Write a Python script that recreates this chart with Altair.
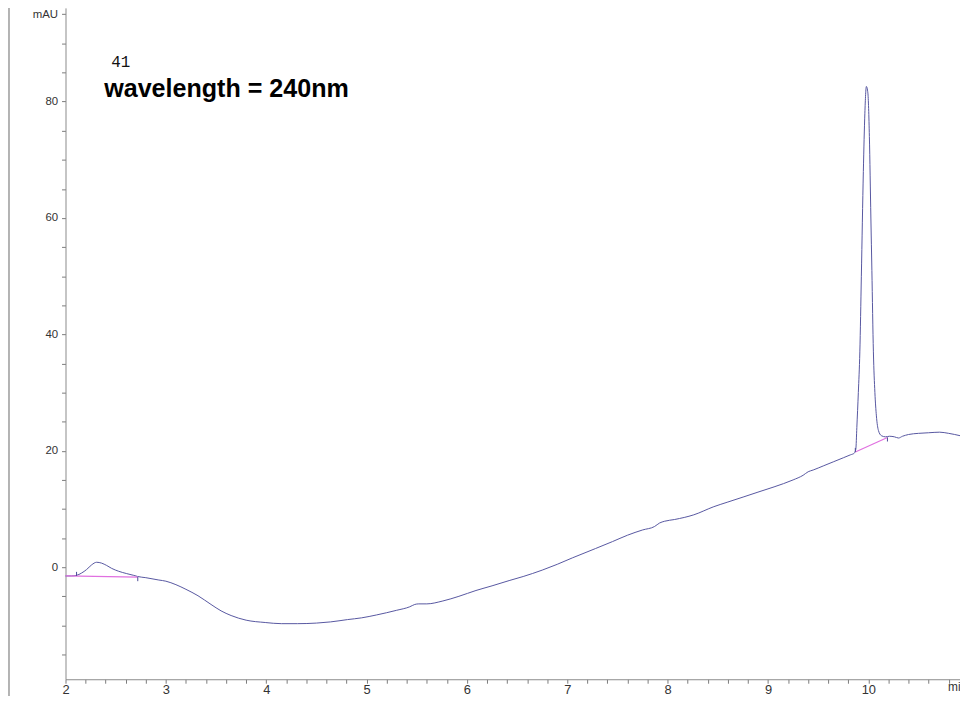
import altair as alt
import pandas as pd

# Chromatogram trace (minutes, mAU)
time_min = [2.00, 2.06, 2.11, 2.16, 2.21, 2.26, 2.31, 2.36, 2.41, 2.46, 2.53, 2.61, 2.68, 2.72,
            2.80, 2.93, 3.00, 3.10, 3.20, 3.32, 3.45, 3.55, 3.65, 3.80, 3.99, 4.15, 4.31, 4.50,
            4.64, 4.81, 4.95, 5.10, 5.30, 5.43, 5.48, 5.52, 5.60, 5.76, 5.92, 6.09, 6.25, 6.42,
            6.56, 6.75, 6.90, 7.05, 7.28, 7.45, 7.60, 7.75, 7.87, 7.92, 7.97, 8.07, 8.26, 8.46,
            8.60, 8.76, 8.90, 9.06, 9.25, 9.35, 9.40, 9.45, 9.55, 9.65, 9.75, 9.82, 9.86, 9.875,
            9.885, 9.90, 9.915, 9.93, 9.95, 9.965, 9.98, 9.995, 10.01, 10.025, 10.035, 10.05,
            10.065, 10.08, 10.10, 10.13, 10.17, 10.21, 10.26, 10.30, 10.34, 10.40, 10.50, 10.60,
            10.71, 10.80, 10.913]
signal_mau = [-1.5, -1.5, -1.4, -1.0, -0.4, 0.4, 0.85, 0.7, 0.3, -0.2, -0.7, -1.1, -1.4, -1.6,
              -1.8, -2.2, -2.4, -3.0, -3.8, -4.9, -6.4, -7.5, -8.3, -9.1, -9.5, -9.7, -9.7, -9.6,
              -9.4, -9.0, -8.7, -8.2, -7.4, -6.8, -6.4, -6.3, -6.3, -5.8, -5.0, -4.0, -3.2, -2.3,
              -1.6, -0.5, 0.5, 1.6, 3.2, 4.4, 5.5, 6.4, 7.0, 7.6, 7.9, 8.2, 9.0, 10.4,
              11.2, 12.1, 12.9, 13.8, 15.0, 15.8, 16.4, 16.7, 17.4, 18.1, 18.8, 19.3, 19.6, 20.3,
              24.0, 30.0, 37.0, 50.0, 68.0, 78.0, 82.6, 81.5, 74.0, 60.0, 51.0, 37.0,
              30.0, 26.0, 23.5, 22.6, 22.4, 22.5, 22.4, 22.2, 22.5, 22.8, 23.0, 23.1,
              23.2, 23.0, 22.6]

# Integration baselines (start/end points)
base_id = ["b1", "b1", "b2", "b2"]
base_t = [2.00, 2.72, 9.87, 10.19]
base_v = [-1.5, -1.7, 19.8, 22.3]

# Integration marker ticks
mark_t = [2.11, 2.72, 9.87, 10.19]
mark_v1 = [-1.5, -1.7, 19.8, 22.3]
mark_v2 = [-0.8, -2.4, 20.5, 21.6]

x_ticks = [2.0, 2.2, 2.4, 2.6, 2.8, 3.0, 3.2, 3.4, 3.6, 3.8, 4.0, 4.2, 4.4, 4.6, 4.8,
           5.0, 5.2, 5.4, 5.6, 5.8, 6.0, 6.2, 6.4, 6.6, 6.8, 7.0, 7.2, 7.4, 7.6, 7.8,
           8.0, 8.2, 8.4, 8.6, 8.8, 9.0, 9.2, 9.4, 9.6, 9.8, 10.0, 10.2, 10.4, 10.6, 10.8]
y_ticks = [-15, -10, -5, 0, 5, 10, 15, 20, 25, 30, 35, 40, 45, 50, 55, 60, 65, 70, 75,
           80, 85, 90, 95]

X_DOM = [2.0, 10.913]
Y_DOM = [-19.25, 96.1]
W, H = 902, 677

df = pd.DataFrame({"t": time_min, "v": signal_mau})
dfb = pd.DataFrame({"id": base_id, "t": base_t, "v": base_v})
dfm = pd.DataFrame({"t": mark_t, "v": mark_v1, "v2": mark_v2})

xs = alt.Scale(domain=X_DOM, nice=False, zero=False)
ys = alt.Scale(domain=Y_DOM, nice=False, zero=False)

x_axis = alt.Axis(values=x_ticks, title=None, grid=False, domainColor="#8a8a8a",
                  tickColor="#7a7a7a", tickSize=4, tickCount=200, labelColor="#333333",
                  labelFont="Liberation Sans", labelFontSize=13, labelPadding=0,
                  labelOverlap=False, labelFlush=False,
                  labelExpr="abs(datum.value - round(datum.value)) < 0.01 && datum.value < 10.5 ? format(datum.value, 'd') : ''")
y_axis = alt.Axis(values=y_ticks, title=None, grid=False, domainColor="#8a8a8a",
                  tickColor="#7a7a7a", tickSize=4, tickCount=200, labelColor="#333333",
                  labelFont="Liberation Sans", labelFontSize=11.5, labelPadding=4,
                  labelOverlap=False, labelFlush=False,
                  labelExpr="datum.value == 95 ? 'mAU' : (datum.value % 20 == 0 ? format(datum.value, 'd') : '')")

trace = alt.Chart(df).mark_line(color="#5656a0", strokeWidth=1, interpolate="monotone").encode(
    x=alt.X("t:Q", scale=xs, axis=x_axis),
    y=alt.Y("v:Q", scale=ys, axis=y_axis),
)

baselines = alt.Chart(dfb).mark_line(color="#e070e0", strokeWidth=1.2).encode(
    x=alt.X("t:Q", scale=xs, axis=x_axis), y=alt.Y("v:Q", scale=ys, axis=y_axis), detail="id:N"
)

markers = alt.Chart(dfm).mark_rule(color="#4a4a96", strokeWidth=1).encode(
    x=alt.X("t:Q", scale=xs, axis=x_axis), y=alt.Y("v:Q", scale=ys, axis=y_axis), y2="v2:Q"
)

label41 = alt.Chart(pd.DataFrame({"s": ["41"]})).mark_text(
    font="Liberation Mono", fontSize=16, align="left", baseline="alphabetic", color="#111111"
).encode(x=alt.value(46), y=alt.value(60), text="s:N")

wave = alt.Chart(pd.DataFrame({"s": ["wavelength = 240nm"]})).mark_text(
    font="Liberation Sans", fontSize=25.3, fontWeight="bold", align="left",
    baseline="alphabetic", color="#000000"
).encode(x=alt.value(39), y=alt.value(90), text="s:N")

min_lbl = alt.Chart(pd.DataFrame({"s": ["min"]})).mark_text(
    font="Liberation Sans", fontSize=12, align="left", baseline="top", color="#333333"
).encode(x=alt.value(890), y=alt.value(H + 3), text="s:N")

frame_left = alt.Chart(pd.DataFrame({"a": [0]})).mark_rule(color="#9a9a9a", strokeWidth=1.5).encode(
    x=alt.value(-57), y=alt.value(-10), y2=alt.value(H + 30)
)

chart = alt.layer(trace, baselines, markers, label41, wave, min_lbl, frame_left).properties(
    width=W, height=H,
    autosize=alt.AutoSizeParams(type="none"),
    padding={"left": 58, "top": -3, "right": 0, "bottom": 14},
    background="white",
).configure_view(stroke=None)

chart.save("out.html", embed_options={"renderer": "svg", "actions": False})
